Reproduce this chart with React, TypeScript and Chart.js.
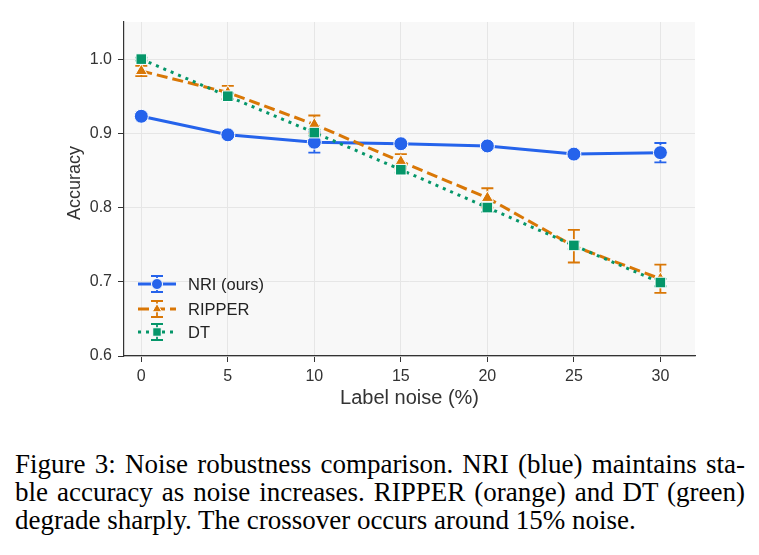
import React, { useEffect, useRef } from "react";
import { Chart, registerables } from "chart.js";

Chart.register(...registerables);

// Label noise levels (%) on the x axis
const noiseLevels = [0, 5, 10, 15, 20, 25, 30];

// Mean accuracy and standard deviation per method
const nriAcc = [0.923, 0.898, 0.888, 0.886, 0.883, 0.872, 0.874];
const nriErr = [0.003, 0.004, 0.014, 0.003, 0.003, 0.004, 0.013];

const ripperAcc = [0.984, 0.955, 0.912, 0.862, 0.813, 0.748, 0.704];
const ripperErr = [0.007, 0.009, 0.012, 0.01, 0.013, 0.022, 0.019];

const dtAcc = [1.0, 0.95, 0.901, 0.851, 0.8, 0.749, 0.699];
const dtErr = [0.002, 0.004, 0.004, 0.004, 0.006, 0.005, 0.005];

const xTickValues = [0, 5, 10, 15, 20, 25, 30];
const yTickValues = [0.6, 0.7, 0.8, 0.9, 1.0];

const seriesLabels = ["NRI (ours)", "RIPPER", "DT"];
const yAxisTitle = "Accuracy";
const xAxisTitle = "Label noise (%)";

const captionLines = [
  "Figure 3: Noise robustness comparison. NRI (blue) maintains sta-",
  "ble accuracy as noise increases. RIPPER (orange) and DT (green)",
  "degrade sharply. The crossover occurs around 15% noise.",
];

const BLUE = "#2563eb";
const ORANGE = "#d97706";
const GREEN = "#059669";
const SANS = "'Liberation Sans', Arial, sans-serif";
const AXIS_TEXT = "#333333";

type MarkerKind = "circle" | "triangle" | "rect";

interface SeriesStyle {
  color: string;
  dash: number[];
  marker: MarkerKind;
  radius: number;
}

const styles: SeriesStyle[] = [
  { color: BLUE, dash: [], marker: "circle", radius: 7 },
  { color: ORANGE, dash: [11, 5], marker: "triangle", radius: 7 },
  { color: GREEN, dash: [3, 5], marker: "rect", radius: 7.5 },
];

function drawMarker(ctx: CanvasRenderingContext2D, kind: MarkerKind, x: number, y: number, r: number, color: string) {
  ctx.save();
  ctx.setLineDash([]);
  ctx.fillStyle = color;
  ctx.strokeStyle = "#ffffff";
  ctx.lineWidth = 1;
  ctx.beginPath();
  if (kind === "circle") {
    ctx.arc(x, y, r, 0, Math.PI * 2);
  } else if (kind === "triangle") {
    ctx.moveTo(x, y - r);
    ctx.lineTo(x + r * 0.87, y + r * 0.5);
    ctx.lineTo(x - r * 0.87, y + r * 0.5);
    ctx.closePath();
  } else {
    const s = r * Math.SQRT1_2;
    ctx.rect(x - s, y - s, 2 * s, 2 * s);
  }
  ctx.fill();
  ctx.stroke();
  ctx.restore();
}

const plotBackground = {
  id: "plotBackground",
  beforeDraw(chart: any) {
    const { ctx, chartArea } = chart;
    ctx.save();
    ctx.fillStyle = "#ffffff";
    ctx.fillRect(0, 0, chart.width, chart.height);
    ctx.fillStyle = "#f8f8f8";
    ctx.fillRect(chartArea.left, chartArea.top, chartArea.right - chartArea.left, chartArea.bottom - chartArea.top);
    ctx.restore();
  },
};

// Vertical error bars with caps, drawn right before each dataset's line
const errorBars = {
  id: "errorBars",
  beforeDatasetDraw(chart: any, args: any) {
    const ds = chart.data.datasets[args.index];
    const errs: number[] | undefined = ds.errors;
    if (!errs) return;
    const { ctx } = chart;
    const xs = chart.scales.x;
    const ys = chart.scales.y;
    ctx.save();
    ctx.strokeStyle = ds.borderColor;
    ctx.lineWidth = 1.8;
    ctx.setLineDash([]);
    ds.data.forEach((p: { x: number; y: number }, i: number) => {
      const px = xs.getPixelForValue(p.x);
      const top = ys.getPixelForValue(p.y + errs[i]);
      const bot = ys.getPixelForValue(p.y - errs[i]);
      ctx.beginPath();
      ctx.moveTo(px, top);
      ctx.lineTo(px, bot);
      ctx.moveTo(px - 6, top);
      ctx.lineTo(px + 6, top);
      ctx.moveTo(px - 6, bot);
      ctx.lineTo(px + 6, bot);
      ctx.stroke();
    });
    ctx.restore();
  },
};

// Rotated y-axis title, placed beside the tick labels
const yTitle = {
  id: "yTitle",
  afterDraw(chart: any) {
    const { ctx, chartArea } = chart;
    ctx.save();
    ctx.translate(chartArea.left - 44, (chartArea.top + chartArea.bottom) / 2 - 6);
    ctx.rotate(-Math.PI / 2);
    ctx.fillStyle = AXIS_TEXT;
    ctx.font = `18px ${SANS}`;
    ctx.textAlign = "center";
    ctx.textBaseline = "alphabetic";
    ctx.fillText(yAxisTitle, 0, 0);
    ctx.restore();
  },
};

// Legend in the lower-left corner of the plot, with error-bar handles
const cornerLegend = {
  id: "cornerLegend",
  afterDraw(chart: any) {
    const { ctx, chartArea } = chart;
    const rowOffsets = [72, 47, 24];
    ctx.save();
    seriesLabels.forEach((label, i) => {
      const st = styles[i];
      const y = chartArea.bottom - rowOffsets[i];
      const x0 = chartArea.left + 14;
      const x1 = chartArea.left + 52;
      const xm = (x0 + x1) / 2;
      ctx.strokeStyle = st.color;
      ctx.lineWidth = 3;
      ctx.lineCap = "butt";
      ctx.setLineDash(st.dash);
      ctx.beginPath();
      ctx.moveTo(x0, y);
      ctx.lineTo(x1, y);
      ctx.stroke();
      ctx.setLineDash([]);
      ctx.lineWidth = 1.8;
      ctx.beginPath();
      ctx.moveTo(xm, y - 8);
      ctx.lineTo(xm, y + 8);
      ctx.moveTo(xm - 6, y - 8);
      ctx.lineTo(xm + 6, y - 8);
      ctx.moveTo(xm - 6, y + 8);
      ctx.lineTo(xm + 6, y + 8);
      ctx.stroke();
      drawMarker(ctx, st.marker, xm, y, st.radius - 1.5, st.color);
      ctx.fillStyle = "#222222";
      ctx.font = `16.5px ${SANS}`;
      ctx.textAlign = "left";
      ctx.textBaseline = "middle";
      ctx.fillText(label, chartArea.left + 64, y + 1);
    });
    ctx.restore();
  },
};

export default function App() {
  const canvasRef = useRef<HTMLCanvasElement | null>(null);

  useEffect(() => {
    const canvas = canvasRef.current;
    if (!canvas) return;
    const values = [nriAcc, ripperAcc, dtAcc];
    const errors = [nriErr, ripperErr, dtErr];

    const datasets: any[] = seriesLabels.map((label, i) => {
      const st = styles[i];
      return {
        label,
        data: noiseLevels.map((x, j) => ({ x, y: values[i][j] })),
        errors: errors[i],
        borderColor: st.color,
        backgroundColor: st.color,
        borderWidth: 3,
        borderDash: st.dash,
        borderCapStyle: "butt",
        tension: 0,
        pointStyle: st.marker,
        pointRadius: st.radius,
        pointBackgroundColor: st.color,
        pointBorderColor: "#ffffff",
        pointBorderWidth: 1,
        order: 2 - i,
      };
    });

    const tickFont = { family: SANS, size: 16 };

    const chart = new Chart(canvas, {
      type: "line",
      data: { datasets },
      options: {
        animation: false,
        responsive: false,
        devicePixelRatio: 1,
        layout: { padding: { left: 58, right: 64, top: 22, bottom: 0 } },
        plugins: { legend: { display: false }, tooltip: { enabled: false } },
        scales: {
          x: {
            type: "linear",
            min: -1,
            max: 32,
            afterBuildTicks: (scale: any) => {
              scale.ticks = xTickValues.map((v) => ({ value: v }));
            },
            afterFit: (scale: any) => {
              scale.height = 74;
            },
            ticks: {
              font: tickFont,
              color: AXIS_TEXT,
              padding: 5,
              maxRotation: 0,
              autoSkip: false,
              callback: (v: any) => String(v),
            },
            grid: { color: "#e6e6e6", lineWidth: 1, tickColor: "#333333", tickLength: 6, tickWidth: 1 },
            border: { display: true, color: "#333333", width: 1.2 },
            title: {
              display: true,
              text: xAxisTitle,
              font: { family: SANS, size: 20 },
              color: AXIS_TEXT,
              padding: { top: 0, bottom: 20 },
            },
          },
          y: {
            type: "linear",
            min: 0.6,
            max: 1.05,
            afterBuildTicks: (scale: any) => {
              scale.ticks = yTickValues.map((v) => ({ value: v }));
            },
            afterFit: (scale: any) => {
              scale.width = 66;
            },
            ticks: {
              font: tickFont,
              color: AXIS_TEXT,
              padding: 6,
              callback: (v: any) => Number(v).toFixed(1),
            },
            grid: { color: "#e6e6e6", lineWidth: 1, tickColor: "#333333", tickLength: 6, tickWidth: 1 },
            border: { display: true, color: "#333333", width: 1.2 },
          },
        },
      } as any,
      plugins: [plotBackground, errorBars, yTitle, cornerLegend],
    });

    return () => chart.destroy();
  }, []);

  const captionTops = [450, 478, 506];

  return (
    <div style={{ position: "absolute", left: 0, top: 0, width: 759, height: 555, background: "#ffffff", overflow: "hidden" }}>
      <canvas ref={canvasRef} width={759} height={430} style={{ position: "absolute", left: 0, top: 0, width: 759, height: 430 }} />
      {captionLines.map((line, i) => (
        <div
          key={i}
          style={{
            position: "absolute",
            left: 15,
            top: captionTops[i],
            width: i < 2 ? 730 : 700,
            fontFamily: "'Liberation Serif', 'Times New Roman', serif",
            fontSize: 27,
            lineHeight: "28px",
            color: "#000000",
            whiteSpace: "nowrap",
            textAlign: i < 2 ? "justify" : "left",
            textAlignLast: i < 2 ? "justify" : "left",
          } as React.CSSProperties}
        >
          {line}
        </div>
      ))}
    </div>
  );
}
